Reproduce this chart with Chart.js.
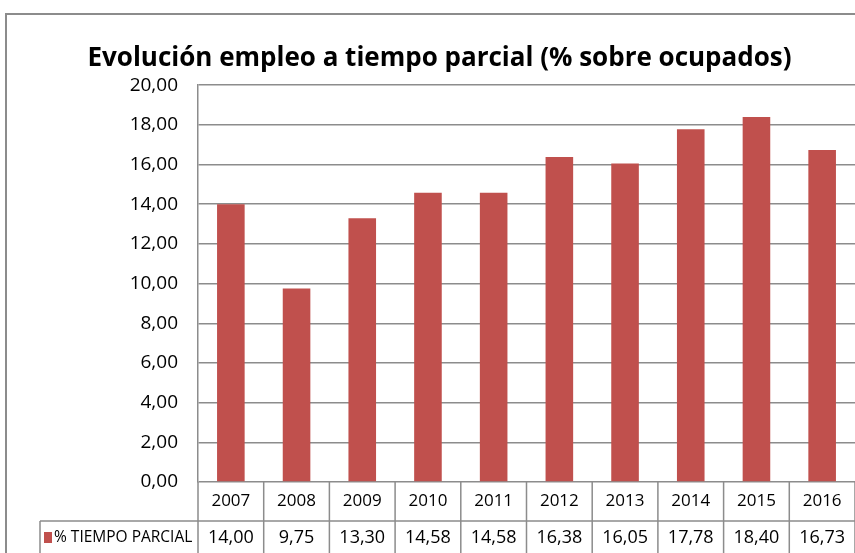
<!DOCTYPE html>
<html>
<head>
<meta charset="utf-8">
<script src="https://cdn.jsdelivr.net/npm/chart.js@4"></script>
<style>
  html, body { margin: 0; padding: 0; background: #fff; }
  #wrap { width: 855px; height: 553px; }
</style>
</head>
<body>
<div id="wrap"><canvas id="myChart"></canvas></div>
<script>
const years = ['2007', '2008', '2009', '2010', '2011', '2012', '2013', '2014', '2015', '2016'];
const tiempoParcial = [14.00, 9.75, 13.30, 14.58, 14.58, 16.38, 16.05, 17.78, 18.40, 16.73];
const seriesName = '% TIEMPO PARCIAL';

const FONT = "'Open Sans', sans-serif";
const GRID = '#8c8c8c';
const BAR = '#c0504d';

const fmt = v => v.toFixed(2).replace('.', ',');

// Excel-like frame and data table below the plot
const dataTable = {
    id: 'dataTable',
    beforeDraw(chart) {
        const c = chart.ctx;
        c.save();
        c.strokeStyle = GRID;
        c.lineWidth = 2;
        c.beginPath();
        c.moveTo(6, chart.height + 5);
        c.lineTo(6, 14);
        c.lineTo(chart.width + 5, 14);
        c.stroke();
        c.restore();
    },
    afterDraw(chart) {
        const c = chart.ctx;
        const x = chart.scales.x;
        const area = chart.chartArea;
        const step = x.getPixelForValue(1) - x.getPixelForValue(0);
        const top = area.bottom;
        const mid = top + 39;
        const bot = chart.height + 5;
        c.save();
        c.strokeStyle = GRID;
        c.lineWidth = 1.5;
        c.beginPath();
        c.moveTo(40, mid); c.lineTo(area.right, mid);
        c.moveTo(40, mid); c.lineTo(40, bot);
        for (let i = 0; i <= years.length; i++) {
            const px = x.getPixelForValue(i) - step / 2;
            c.moveTo(px, top); c.lineTo(px, bot);
        }
        c.stroke();

        c.fillStyle = '#000';
        c.textAlign = 'center';
        c.textBaseline = 'middle';
        years.forEach((y, i) => {
            const px = x.getPixelForValue(i);
            c.font = '17px ' + FONT;
            c.fillText(y, px, top + 19);
            c.font = '18px ' + FONT;
            c.fillText(fmt(tiempoParcial[i]), px, mid + 17);
        });

        c.fillStyle = BAR;
        c.fillRect(44, mid + 11, 8, 11);
        c.fillStyle = '#000';
        c.textAlign = 'left';
        c.font = '15.5px ' + FONT;
        c.fillText(seriesName, 54, mid + 17);
        c.restore();
    }
};

const ctx = document.getElementById('myChart');

new Chart(ctx, {
    type: 'bar',
    data: {
        labels: years,
        datasets: [{
            label: seriesName,
            data: tiempoParcial,
            backgroundColor: BAR,
            barPercentage: 0.42,
            categoryPercentage: 1
        }]
    },
    options: {
        responsive: true,
        maintainAspectRatio: false,
        animation: false,
        layout: {
            padding: { left: 24, right: 0, top: 0, bottom: 71 }
        },
        plugins: {
            legend: { display: false },
            tooltip: { enabled: false },
            title: {
                display: true,
                text: 'Evolución empleo a tiempo parcial (% sobre ocupados)',
                color: '#000',
                font: { family: FONT, size: 26, weight: 'bold' },
                padding: { top: 43, bottom: 11 }
            }
        },
        scales: {
            x: {
                display: false
            },
            y: {
                min: 0,
                max: 20,
                afterFit(scale) { scale.width = 174; },
                ticks: {
                    stepSize: 2,
                    color: '#000',
                    padding: 20,
                    font: { family: FONT, size: 19 },
                    callback: v => fmt(v)
                },
                grid: {
                    color: GRID,
                    lineWidth: 1.5,
                    drawTicks: false
                },
                border: { color: GRID, width: 1.5 }
            }
        }
    },
    plugins: [dataTable]
});
</script>
</body>
</html>
